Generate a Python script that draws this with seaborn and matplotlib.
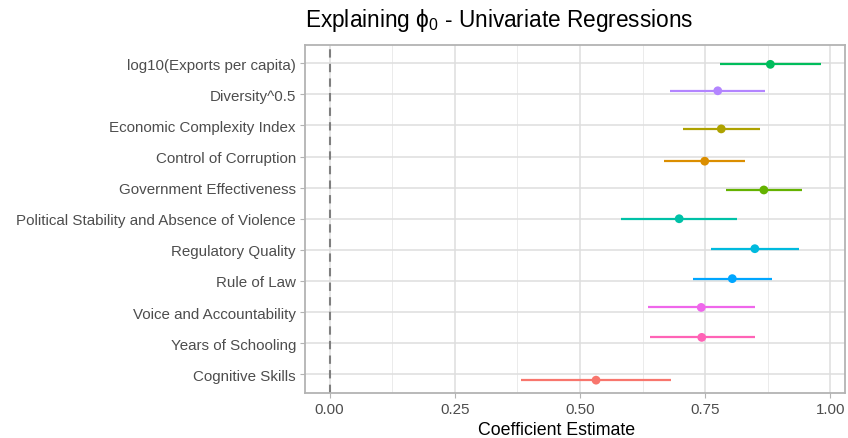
import matplotlib
matplotlib.use("Agg")
import matplotlib.pyplot as plt
import seaborn as sns
import pandas as pd
import numpy as np

# rows, top to bottom
categories = [
    "log10(Exports per capita)",
    "Diversity^0.5",
    "Economic Complexity Index",
    "Control of Corruption",
    "Government Effectiveness",
    "Political Stability and Absence of Violence",
    "Regulatory Quality",
    "Rule of Law",
    "Voice and Accountability",
    "Years of Schooling",
    "Cognitive Skills",
]
estimate = [0.880, 0.775, 0.782, 0.749, 0.867, 0.698, 0.849, 0.804, 0.742, 0.743, 0.532]
lower = [0.780, 0.679, 0.705, 0.668, 0.791, 0.581, 0.761, 0.725, 0.635, 0.640, 0.382]
upper = [0.981, 0.870, 0.859, 0.830, 0.943, 0.813, 0.938, 0.883, 0.850, 0.849, 0.682]

# colour/group (factor level) order, as in the legend-less hue mapping
hue_levels = [
    "Cognitive Skills",
    "Control of Corruption",
    "Economic Complexity Index",
    "Government Effectiveness",
    "log10(Exports per capita)",
    "Political Stability and Absence of Violence",
    "Regulatory Quality",
    "Rule of Law",
    "Diversity^0.5",
    "Voice and Accountability",
    "Years of Schooling",
]
hue_colors = ["#F8766D", "#DB8E00", "#AEA200", "#64B200", "#00BD5C", "#00C1A7",
              "#00BADE", "#00A6FF", "#B385FF", "#EF67EB", "#FF63B6"]
xticks = [0.0, 0.25, 0.5, 0.75, 1.0]
xticklabels = ["0.00", "0.25", "0.50", "0.75", "1.00"]

df = pd.DataFrame({"term": categories, "estimate": estimate,
                   "lower": lower, "upper": upper})
palette = dict(zip(hue_levels, hue_colors))

# dodge within the group order (width 0.4 shared by 11 groups)
dodge_w = 0.375
n = len(hue_levels)
grp = df["term"].map({t: i for i, t in enumerate(hue_levels)})
df["ypos"] = np.arange(len(categories)) + (n // 2 - grp) * dodge_w / (n - 1)

sns.set_theme(style="white")
plt.rcParams["font.family"] = ["Liberation Sans", "DejaVu Sans"]
plt.rcParams["mathtext.fontset"] = "custom"
plt.rcParams["mathtext.rm"] = "Liberation Sans"
plt.rcParams["mathtext.it"] = "Liberation Sans"

fig = plt.figure(figsize=(8.48, 4.39), dpi=100)
ax = fig.add_axes([305 / 848, 1 - 394 / 439, 540 / 848, 348.5 / 439])
ax.set_facecolor("white")

rows = np.arange(len(categories))

# grid
for v in [0.125, 0.375, 0.625, 0.875]:
    ax.axvline(v, color="#EBEBEB", lw=0.7, zorder=0)
for v in xticks:
    ax.axvline(v, color="#DEDEDE", lw=1.1, zorder=0)
for y in rows:
    ax.axhline(y, color="#DEDEDE", lw=1.1, zorder=0)

ax.axvline(0, color="#7F7F7F", lw=1.5, ls=(0, (4, 3)), zorder=1)

ax.hlines(df["ypos"], df["lower"], df["upper"],
          colors=[palette[t] for t in df["term"]], lw=1.6, zorder=2)
sns.scatterplot(data=df, x="estimate", y="ypos", hue="term", palette=palette,
                hue_order=hue_levels, s=40, edgecolor="none", legend=False,
                ax=ax, zorder=3)

ax.set_xlim(-0.049, 1.029)
ax.set_ylim(10.6, -0.6)
ax.set_yticks(rows)
ax.set_yticklabels(categories)
ax.set_xticks(xticks)
ax.set_xticklabels(xticklabels)
ax.tick_params(axis="both", colors="#B3B3B3", length=3.5, width=0.8,
               labelsize=10.9, labelcolor="#4D4D4D", pad=3)
ax.tick_params(axis="both", which="both", left=True, bottom=True)
for s in ax.spines.values():
    s.set_color("#B3B3B3")
    s.set_linewidth(1.3)
    s.set_visible(True)

ax.set_xlabel("")
ax.set_ylabel("")
fig.text(557 / 848, 1 - 431 / 439, "Coefficient Estimate", fontsize=12.8,
         ha="center", va="center", color="black")
fig.text(305 / 848, 1 - 20 / 439, r"Explaining $\mathrm{\phi}_0$ - Univariate Regressions",
         fontsize=16.3, ha="left", va="center", color="black")

fig.savefig("out.png", dpi=100)
